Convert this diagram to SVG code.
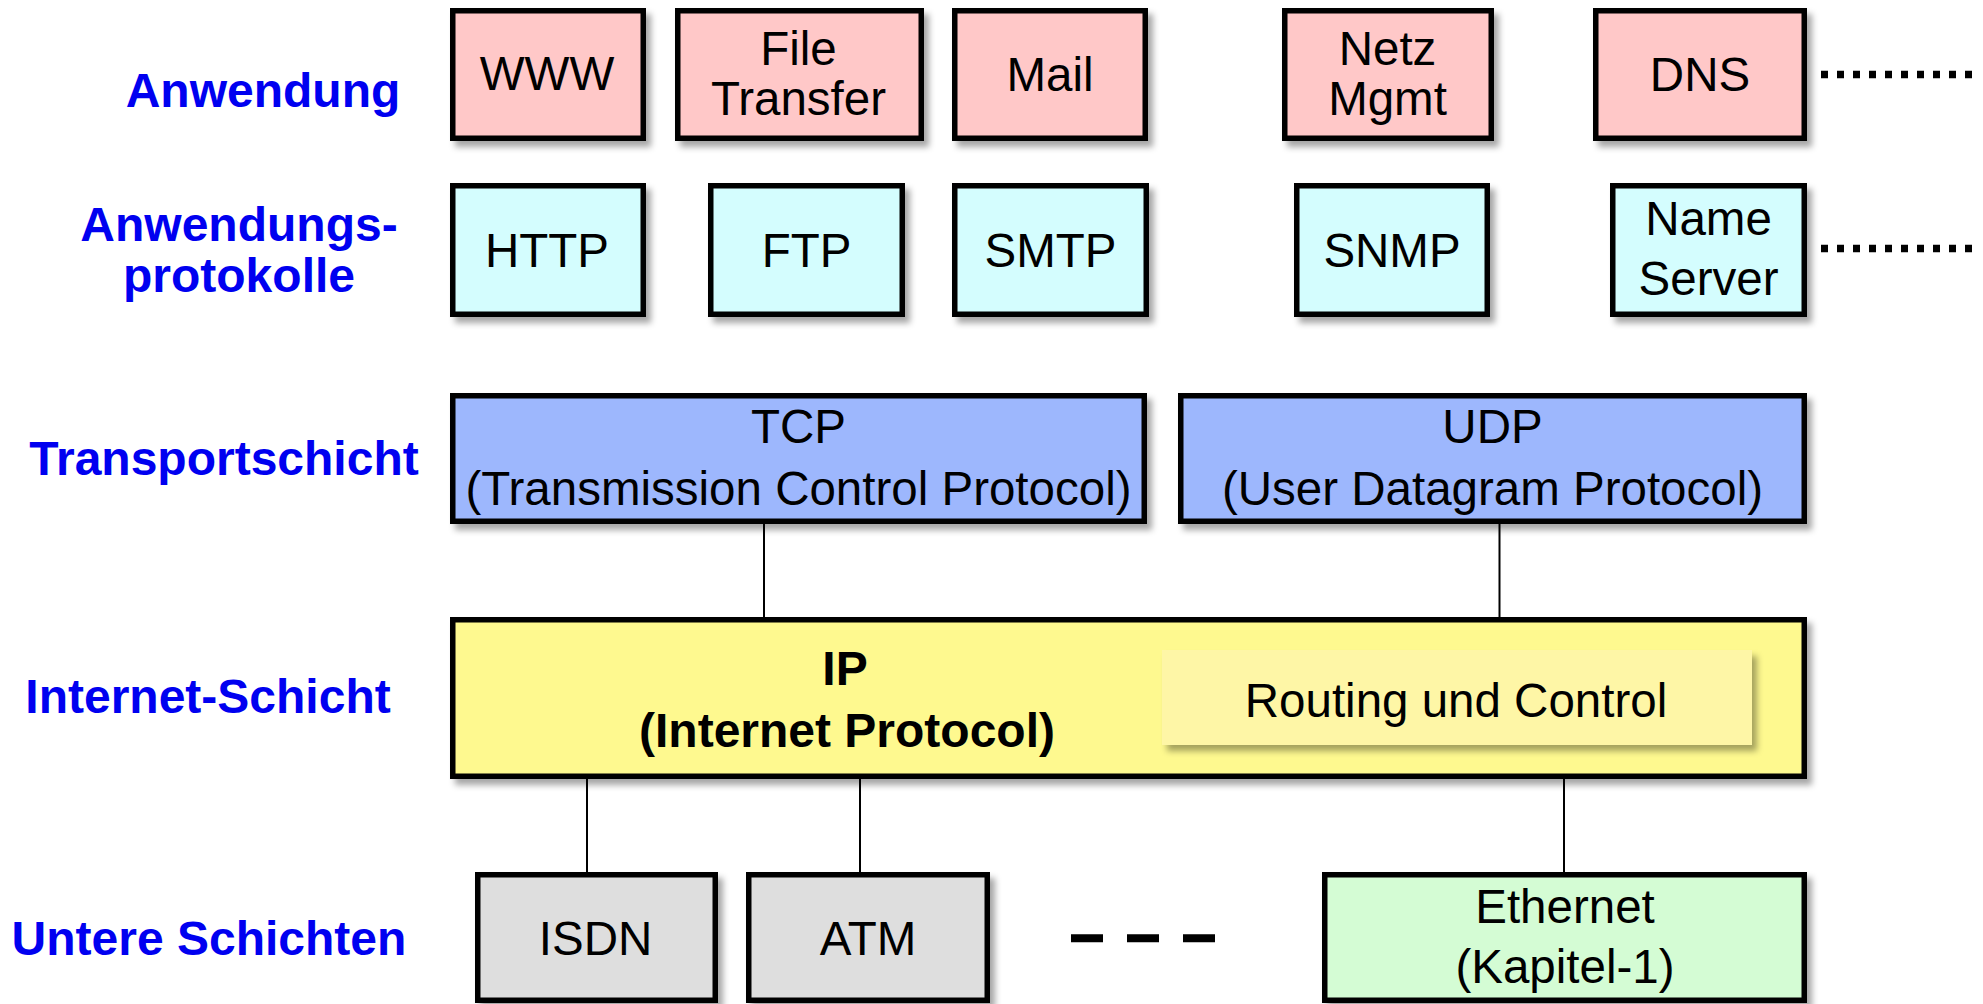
<svg xmlns="http://www.w3.org/2000/svg" width="1983" height="1004" viewBox="0 0 1983 1004">
<defs>
<filter id="sh" x="-10%" y="-10%" width="125%" height="130%">
<feGaussianBlur in="SourceAlpha" stdDeviation="3"/>
<feOffset dx="5" dy="6" result="b"/>
<feFlood flood-color="#000" flood-opacity="0.35"/>
<feComposite in2="b" operator="in"/>
<feMerge><feMergeNode/><feMergeNode in="SourceGraphic"/></feMerge>
</filter>
</defs>
<style>
.box{stroke:#000;stroke-width:5.5;filter:url(#sh)}
.app{fill:#FFC8C8}
.proto{fill:#D4FDFE}
.tr{fill:#9DB7FD}
.ip{fill:#FEF98F}
.low{fill:#DEDEDE}
.eth{fill:#D4FCD4}
.t{font-family:"Liberation Sans",Arial,sans-serif;font-size:47.5px;fill:#000;text-anchor:middle}
.b{font-weight:bold;font-size:48px}
.lbl{font-family:"Liberation Sans",Arial,sans-serif;font-size:48px;font-weight:bold;fill:#0000F0;text-anchor:middle}
.conn{stroke:#000;stroke-width:2;fill:none}
</style>
<rect width="1983" height="1004" fill="#fff"/>

<g id="labels">
<text class="lbl" x="263" y="107">Anwendung</text>
<text class="lbl" x="239" y="241">Anwendungs-</text>
<text class="lbl" x="239" y="292">protokolle</text>
<text class="lbl" x="224" y="475">Transportschicht</text>
<text class="lbl" x="208" y="713">Internet-Schicht</text>
<text class="lbl" x="209" y="955">Untere Schichten</text>
</g>

<g id="connectors">
<line class="conn" x1="764" y1="524" x2="764" y2="617"/>
<line class="conn" x1="1499.5" y1="524" x2="1499.5" y2="617"/>
<line class="conn" x1="587" y1="779" x2="587" y2="872"/>
<line class="conn" x1="860" y1="779" x2="860" y2="872"/>
<line class="conn" x1="1564" y1="779" x2="1564" y2="872"/>
<line x1="1821" y1="74.5" x2="1975" y2="74.5" stroke="#000" stroke-width="7.5" stroke-dasharray="7 9"/>
<line x1="1821" y1="248.5" x2="1975" y2="248.5" stroke="#000" stroke-width="7.5" stroke-dasharray="7 9"/>
<line x1="1071" y1="938.3" x2="1215" y2="938.3" stroke="#000" stroke-width="8" stroke-dasharray="32 24"/>
</g>

<g id="www"><rect class="box app" x="452.75" y="10.75" width="190.5" height="127.5"/><text class="t" x="547" y="90">WWW</text></g>
<g id="filetransfer"><rect class="box app" x="677.75" y="10.75" width="243.5" height="127.5"/><text class="t" x="798.5" y="65">File</text><text class="t" x="798.5" y="115">Transfer</text></g>
<g id="mail"><rect class="box app" x="954.75" y="10.75" width="190.5" height="127.5"/><text class="t" x="1050" y="90.7">Mail</text></g>
<g id="netzmgmt"><rect class="box app" x="1284.75" y="10.75" width="206.5" height="127.5"/><text class="t" x="1387.5" y="65">Netz</text><text class="t" x="1387.5" y="115">Mgmt</text></g>
<g id="dns"><rect class="box app" x="1595.75" y="10.75" width="208.5" height="127.5"/><text class="t" x="1700" y="90.7">DNS</text></g>

<g id="http"><rect class="box proto" x="452.75" y="185.75" width="190.5" height="128.5"/><text class="t" x="547" y="266.7">HTTP</text></g>
<g id="ftp"><rect class="box proto" x="710.75" y="185.75" width="191.5" height="128.5"/><text class="t" x="806.5" y="266.7">FTP</text></g>
<g id="smtp"><rect class="box proto" x="954.75" y="185.75" width="191.5" height="128.5"/><text class="t" x="1050.5" y="266.7">SMTP</text></g>
<g id="snmp"><rect class="box proto" x="1296.75" y="185.75" width="190.5" height="128.5"/><text class="t" x="1392" y="266.7">SNMP</text></g>
<g id="nameserver"><rect class="box proto" x="1612.75" y="185.75" width="191.5" height="128.5"/><text class="t" x="1708.5" y="235">Name</text><text class="t" x="1708.5" y="295">Server</text></g>

<g id="tcp"><rect class="box tr" x="452.75" y="395.75" width="691.5" height="125.5"/><text class="t" x="798.5" y="443">TCP</text><text class="t" x="798.5" y="505">(Transmission Control Protocol)</text></g>
<g id="udp"><rect class="box tr" x="1180.75" y="395.75" width="623.5" height="125.5"/><text class="t" x="1492.5" y="443">UDP</text><text class="t" x="1492.5" y="505">(User Datagram Protocol)</text></g>

<g id="ip"><rect class="box ip" x="452.75" y="619.75" width="1351.5" height="156.5"/><text class="t b" x="845" y="685">IP</text><text class="t b" x="847" y="747">(Internet Protocol)</text>
<rect x="1162" y="650" width="590" height="95" fill="#FEF6A6" filter="url(#sh)"/><text class="t" x="1456" y="716.7">Routing und Control</text></g>

<g id="isdn"><rect class="box low" x="477.75" y="874.75" width="237.5" height="125.5"/><text class="t" x="595.5" y="955">ISDN</text></g>
<g id="atm"><rect class="box low" x="748.75" y="874.75" width="238.5" height="125.5"/><text class="t" x="868" y="955">ATM</text></g>
<g id="ethernet"><rect class="box eth" x="1324.75" y="874.75" width="479.5" height="125.5"/><text class="t" x="1565" y="923">Ethernet</text><text class="t" x="1565" y="983">(Kapitel-1)</text></g>
</svg>
